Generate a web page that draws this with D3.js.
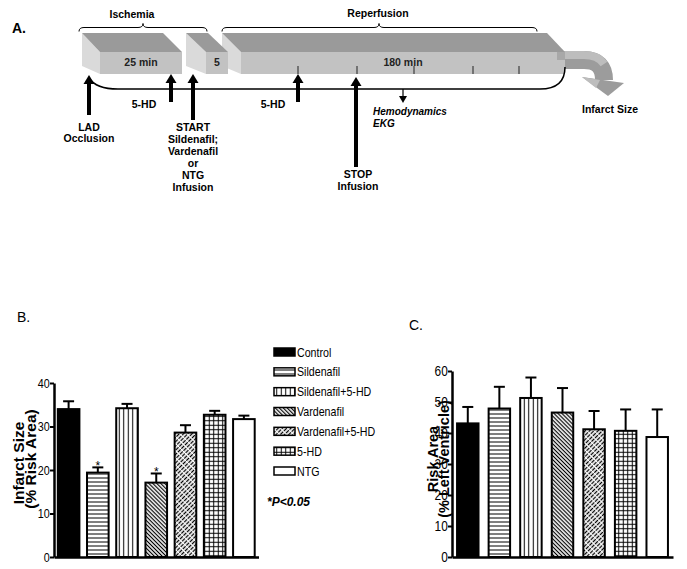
<!DOCTYPE html>
<html>
<head>
<meta charset="utf-8">
<script src="https://cdn.jsdelivr.net/npm/d3@7"></script>
<style>
  body { margin: 0; background: #fff; }
  svg { display: block; }
  text { font-family: "Liberation Sans", Arial, sans-serif; }
</style>
</head>
<body>
<script>
// groups and values
const groups = ["Control", "Sildenafil", "Sildenafil+5-HD", "Vardenafil", "Vardenafil+5-HD", "5-HD", "NTG"];
const infarctMean = [34.0, 19.4, 34.2, 17.1, 28.6, 32.7, 31.7];
const infarctErr = [1.8, 1.2, 1.0, 2.1, 1.7, 0.9, 0.8];
const infarctSig = [false, true, false, true, false, false, false];
const riskMean = [43.1, 47.9, 51.3, 46.6, 41.2, 40.7, 38.7];
const riskErr = [5.3, 7.0, 6.6, 7.9, 5.9, 6.9, 8.9];
const infarctTicks = [0, 10, 20, 30, 40];
const riskTicks = [0, 10, 20, 30, 40, 50, 60];

const fills = ["#000", "url(#hl)", "url(#vl)", "url(#dg)", "url(#dd)", "url(#gr)", "#fff"];

const width = 687, height = 569;
const squeeze = 0.82; // the original uses a narrow face

const svg = d3.select("body").append("svg")
  .attr("width", width)
  .attr("height", height);

// hatch patterns
const defs = svg.append("defs");
function pattern(id, w, h, lines, transform, dash) {
  const p = defs.append("pattern")
    .attr("id", id)
    .attr("patternUnits", "userSpaceOnUse")
    .attr("width", w).attr("height", h);
  if (transform) p.attr("patternTransform", transform);
  p.append("rect").attr("width", w).attr("height", h).attr("fill", "#fff");
  lines.forEach(l => {
    p.append("line")
      .attr("x1", l[0]).attr("y1", l[1]).attr("x2", l[2]).attr("y2", l[3])
      .attr("stroke", "#000").attr("stroke-width", l[4] || 1)
      .attr("stroke-dasharray", dash || null);
  });
}
pattern("hl", 4, 4, [[0, 2, 4, 2]]);
pattern("vl", 4.5, 4, [[2.25, 0, 2.25, 4]]);
pattern("dg", 2.8, 4, [[1.4, 0, 1.4, 4, 1.2]], "rotate(-45)");
pattern("dd", 3, 5, [[1.5, 0, 1.5, 5, 1.3]], "rotate(45)", "4 1");
pattern("gr", 4.5, 4.5, [[0, 2.25, 4.5, 2.25], [2.25, 0, 2.25, 4.5]]);

// ---------- Panel A: protocol diagram ----------
const gA = svg.append("g");
gA.append("text").attr("x", 12).attr("y", 33)
  .attr("font-size", 14).attr("font-weight", "bold").text("A.");

const blocks = [
  { left: 222, front: 241, topRight: 547, right: 565, label: "180 min", lx: 403 },
  { left: 186, front: 206, topRight: 208, right: 228, label: "5", lx: 217 },
  { left: 82, front: 100, topRight: 163, right: 182, label: "25 min", lx: 141 }
];
const yTop = 33, yMid = 52, yBot = 74;

// outflow arrow to infarct size
gA.append("path")
  .attr("d", "M558,60 L584,60 Q604,60 604,80")
  .attr("fill", "none").attr("stroke", "#9c9c9c").attr("stroke-width", 18);
gA.append("path")
  .attr("d", "M558,55 L584,55 Q598,55 604,64")
  .attr("fill", "none").attr("stroke", "#bdbdbd").attr("stroke-width", 8);
gA.append("polygon").attr("points", "582,77 624,83 608,96").attr("fill", "#9c9c9c");
gA.append("polygon").attr("points", "582,77 600,80 596,88").attr("fill", "#bdbdbd");

blocks.forEach(b => {
  gA.append("polygon")
    .attr("points", [[b.left, yTop], [b.front, yMid], [b.front, yBot], [b.left, 66]].join(" "))
    .attr("fill", "#dadada");
  gA.append("polygon")
    .attr("points", [[b.left, yTop], [b.topRight, yTop], [b.right, yMid], [b.front, yMid]].join(" "))
    .attr("fill", "#9a9a9a");
  gA.append("rect")
    .attr("x", b.front).attr("y", yMid)
    .attr("width", b.right - b.front).attr("height", yBot - yMid)
    .attr("fill", "#c2c2c2");
  gA.append("text").attr("x", b.lx).attr("y", 65.5)
    .attr("text-anchor", "middle").attr("font-size", 10.5)
    .attr("font-weight", "bold").attr("fill", "#222").text(b.label);
});
gA.append("rect").attr("x", 557).attr("y", 52).attr("width", 8).attr("height", 8).attr("fill", "#a8a8a8");

// minute ticks on reperfusion block
[298, 357, 414, 473, 519].forEach(x => {
  gA.append("line").attr("x1", x).attr("x2", x).attr("y1", 66).attr("y2", 74)
    .attr("stroke", "#222").attr("stroke-width", 1);
});

// braces
function brace(x0, x1, xm, y) {
  return `M${x0},${y + 4} Q${x0},${y} ${x0 + 5},${y} L${xm - 5},${y} Q${xm},${y} ${xm},${y - 4} ` +
         `Q${xm},${y} ${xm + 5},${y} L${x1 - 5},${y} Q${x1},${y} ${x1},${y + 4}`;
}
gA.append("path").attr("d", brace(79, 207, 143, 27.5))
  .attr("fill", "none").attr("stroke", "#000").attr("stroke-width", 1);
gA.append("path").attr("d", brace(222, 537, 379, 27.5))
  .attr("fill", "none").attr("stroke", "#000").attr("stroke-width", 1);
gA.append("text").attr("x", 132).attr("y", 18).attr("text-anchor", "middle")
  .attr("font-size", 10.5).attr("font-weight", "bold").text("Ischemia");
gA.append("text").attr("x", 378).attr("y", 16.5).attr("text-anchor", "middle")
  .attr("font-size", 10.5).attr("font-weight", "bold").text("Reperfusion");

// timeline baseline
gA.append("path")
  .attr("d", "M89,78 Q96,89 118,89 L540,89 Q565,89 565,67")
  .attr("fill", "none").attr("stroke", "#000").attr("stroke-width", 1.5);

// up arrows
const upArrows = [
  { x: 89, tip: 75, bottom: 115 },
  { x: 171, tip: 74, bottom: 102 },
  { x: 193, tip: 74, bottom: 120 },
  { x: 298, tip: 74, bottom: 102 },
  { x: 356, tip: 77, bottom: 167 }
];
upArrows.forEach(a => {
  gA.append("rect").attr("x", a.x - 2).attr("y", a.tip + 7)
    .attr("width", 4).attr("height", a.bottom - a.tip - 7).attr("fill", "#000");
  gA.append("polygon")
    .attr("points", [[a.x, a.tip], [a.x - 5.5, a.tip + 9], [a.x + 5.5, a.tip + 9]].join(" "))
    .attr("fill", "#000");
});
// small down arrow
gA.append("line").attr("x1", 403).attr("x2", 403).attr("y1", 89).attr("y2", 97)
  .attr("stroke", "#000").attr("stroke-width", 1.2);
gA.append("polygon").attr("points", "399,96 407,96 403,103").attr("fill", "#000");

const aText = [
  { x: 89, y: 131, t: "LAD" }, { x: 89, y: 141.5, t: "Occlusion" },
  { x: 144, y: 107.5, t: "5-HD" }, { x: 273, y: 107.5, t: "5-HD" },
  { x: 193, y: 131, t: "START" }, { x: 193, y: 143, t: "Sildenafil;" },
  { x: 193, y: 155, t: "Vardenafil" }, { x: 193, y: 167, t: "or" },
  { x: 193, y: 179, t: "NTG" }, { x: 193, y: 191, t: "Infusion" },
  { x: 358, y: 178, t: "STOP" }, { x: 358, y: 190, t: "Infusion" },
  { x: 610, y: 113, t: "Infarct Size" }
];
aText.forEach(d => {
  gA.append("text").attr("x", d.x).attr("y", d.y).attr("text-anchor", "middle")
    .attr("font-size", 10.5).attr("font-weight", "bold").text(d.t);
});
gA.append("text").attr("x", 373).attr("y", 115).attr("font-size", 10)
  .attr("font-weight", "bold").attr("font-style", "italic").text("Hemodynamics");
gA.append("text").attr("x", 373).attr("y", 127).attr("font-size", 10)
  .attr("font-weight", "bold").attr("font-style", "italic").text("EKG");

// ---------- bar panels ----------
function barPanel(opts) {
  const g = svg.append("g");
  const x = d3.scaleBand().domain(groups).range(opts.xRange)
    .paddingInner(opts.pad).paddingOuter(opts.pad / 2);
  const y = d3.scaleLinear().domain(opts.yDomain).range([557, opts.yTop]);

  // error bars (upper only)
  const cap = 5.5;
  groups.forEach((gname, i) => {
    const cx = x(gname) + x.bandwidth() / 2;
    const yt = y(opts.mean[i] + opts.err[i]);
    g.append("line").attr("x1", cx).attr("x2", cx)
      .attr("y1", y(opts.mean[i])).attr("y2", yt)
      .attr("stroke", "#000").attr("stroke-width", 2);
    g.append("line").attr("x1", cx - cap).attr("x2", cx + cap)
      .attr("y1", yt).attr("y2", yt)
      .attr("stroke", "#000").attr("stroke-width", 2);
    if (opts.sig && opts.sig[i]) {
      g.append("text").attr("x", cx).attr("y", yt + 2.5)
        .attr("text-anchor", "middle").attr("font-size", 12).text("*");
    }
  });

  g.selectAll("rect.bar")
    .data(groups)
    .enter()
    .append("rect")
    .attr("class", "bar")
    .attr("x", d => x(d))
    .attr("y", (d, i) => y(opts.mean[i]))
    .attr("width", x.bandwidth())
    .attr("height", (d, i) => y(0) - y(opts.mean[i]))
    .attr("fill", (d, i) => fills[i])
    .attr("stroke", "#000")
    .attr("stroke-width", 2);

  opts.labels.forEach(l => {
    g.append("text")
      .attr("transform", `translate(${l.x},${l.y}) rotate(-90)`)
      .attr("text-anchor", "middle")
      .attr("font-size", l.size).attr("font-weight", "bold")
      .text(l.t);
  });

  const yAxis = g.append("g")
    .attr("transform", `translate(${opts.xRange[0]},0)`)
    .call(d3.axisLeft(y).tickValues(opts.ticks).tickSize(4).tickSizeOuter(0).tickPadding(1).tickFormat(d3.format("d")));
  yAxis.select(".domain").attr("stroke-width", 2.5);
  yAxis.selectAll(".tick line").attr("stroke-width", 2);
  yAxis.selectAll(".tick text")
    .attr("font-family", null)
    .attr("font-size", opts.tickFont)
    .attr("fill", "#000")
    .attr("transform", `scale(${opts.tickSqueeze},1)`);

  const xAxis = g.append("g")
    .attr("transform", "translate(0,557)")
    .call(d3.axisBottom(x).tickValues([]).tickSizeOuter(0));
  xAxis.select(".domain").attr("stroke-width", 2.5);
  return g;
}

svg.append("text").attr("x", 17).attr("y", 322).attr("font-size", 14).text("B.");
barPanel({
  xRange: [54, 258.5], pad: 0.26, yDomain: [0, 40], yTop: 383,
  mean: infarctMean, err: infarctErr, sig: infarctSig, ticks: infarctTicks,
  tickFont: 13, tickSqueeze: 0.83,
  labels: [
    { x: 24, y: 463, t: "Infarct Size", size: 15.5 },
    { x: 36, y: 459, t: "(% Risk Area)", size: 15.5 }
  ]
});

svg.append("text").attr("x", 409).attr("y", 330).attr("font-size", 14).text("C.");
barPanel({
  xRange: [452, 673], pad: 0.32, yDomain: [0, 60], yTop: 371,
  mean: riskMean, err: riskErr, ticks: riskTicks,
  tickFont: 14, tickSqueeze: 0.85,
  labels: [
    { x: 437.5, y: 459, t: "Risk Area", size: 14.5 },
    { x: 449, y: 459, t: "(% Left Ventricle)", size: 14.5 }
  ]
});

// legend
const legend = svg.append("g");
const rowY = d3.scalePoint().domain(groups).range([352, 471]);
groups.forEach((gname, i) => {
  legend.append("rect")
    .attr("x", 274).attr("y", rowY(gname) - 4)
    .attr("width", 21).attr("height", 8)
    .attr("fill", fills[i]).attr("stroke", "#000").attr("stroke-width", 1.5);
  legend.append("text")
    .attr("transform", `translate(297,${rowY(gname) + 4.5}) scale(${squeeze},1)`)
    .attr("font-size", 13).text(gname);
});
legend.append("text")
  .attr("x", 267).attr("y", 506)
  .attr("font-size", 12).attr("font-weight", "bold").attr("font-style", "italic")
  .text("*P<0.05");
</script>
</body>
</html>
